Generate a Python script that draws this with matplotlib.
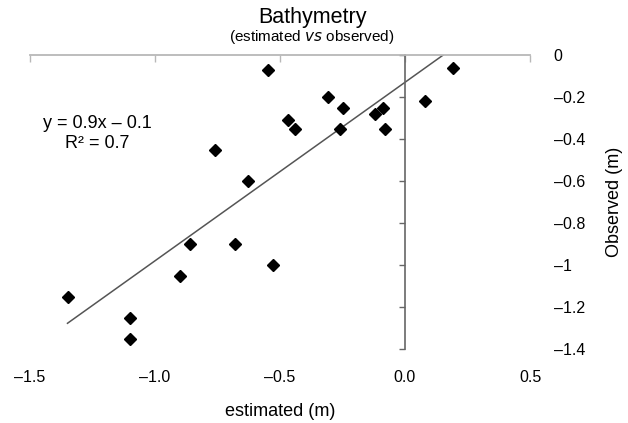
import numpy as np
import matplotlib
matplotlib.use("Agg")
import matplotlib.pyplot as plt
from matplotlib.ticker import FuncFormatter, MultipleLocator

plt.rcParams['font.family'] = ['Liberation Sans', 'DejaVu Sans']

# estimated vs observed depth (m)
estimated = [-0.55, -0.31, -0.25, -0.47, -0.44, -0.26, -0.76, 0.19, 0.08, -0.09,
             -0.12, -0.08, -0.63, -0.86, -0.68, -0.53, -0.90, -1.35, -1.10, -1.10]
observed = [-0.07, -0.20, -0.25, -0.31, -0.35, -0.35, -0.45, -0.06, -0.22, -0.25,
            -0.28, -0.35, -0.60, -0.90, -0.90, -1.00, -1.05, -1.15, -1.25, -1.35]

# trend line as drawn
fit_slope = 0.85
fit_intercept = -0.13

fig = plt.figure(figsize=(6.28, 4.23), dpi=100)
ax = fig.add_axes([30/628, 1 - 349/423, 500/628, 294/423])

x0 = min(estimated)
x1 = -fit_intercept / fit_slope
xs = np.array([x0, x1])
ax.plot(xs, fit_slope * xs + fit_intercept, color='#555555', lw=1.1, zorder=2)
ax.plot(estimated, observed, linestyle='none', marker='D', ms=5.8,
        color='black', zorder=3)

ax.set_xlim(-1.5, 0.5)
ax.set_ylim(-1.4, 0)

# spines
ax.spines['right'].set_visible(False)
ax.spines['bottom'].set_visible(False)
ax.spines['top'].set_color('#b8b8b8')
ax.spines['top'].set_linewidth(1.3)
ax.spines['left'].set_position(('data', 0))
ax.spines['left'].set_color('#666666')
ax.spines['left'].set_linewidth(1.2)

def dash(v):
    # labels use a short dash as minus sign
    return v.replace('-', '\u2013')

# x ticks: marks on the top line, labels at bottom
ax.xaxis.set_major_locator(MultipleLocator(0.5))
ax.xaxis.set_major_formatter(FuncFormatter(lambda v, p: dash('%.1f' % v)))
ax.tick_params(axis='x', top=True, bottom=False, labeltop=False, labelbottom=True,
               direction='in', length=5, color='#b8b8b8', width=1.0,
               labelsize=11.5, pad=15)

# y ticks: marks on the zero line, labels on the right
ax.yaxis.set_major_locator(MultipleLocator(0.2))
ax.yaxis.set_major_formatter(FuncFormatter(lambda v, p: dash('%g' % round(v, 2))))
ax.tick_params(axis='y', left=True, right=False, labelleft=False, labelright=True,
               direction='out', length=4, color='#666666', width=1.0,
               labelsize=11.5, pad=13)

ax.set_xlabel('estimated (m)', fontsize=13, labelpad=13)
ax.yaxis.set_label_position('right')
ax.set_ylabel('Observed (m)', fontsize=13, labelpad=15)

fig.text(0.497, 1 - 17/423, 'Bathymetry', ha='center', va='center', fontsize=15.5)
fig.text(0.497, 1 - 37/423, r'(estimated $\it{vs}$ observed)', ha='center', va='center',
         fontsize=11)

ax.text(-1.232, -0.324, 'y = 0.9x \u2013 0.1', ha='center', va='center', fontsize=13)
ax.text(-1.232, -0.42, 'R\u00b2 = 0.7', ha='center', va='center', fontsize=13)

fig.savefig('out.png', dpi=100)
